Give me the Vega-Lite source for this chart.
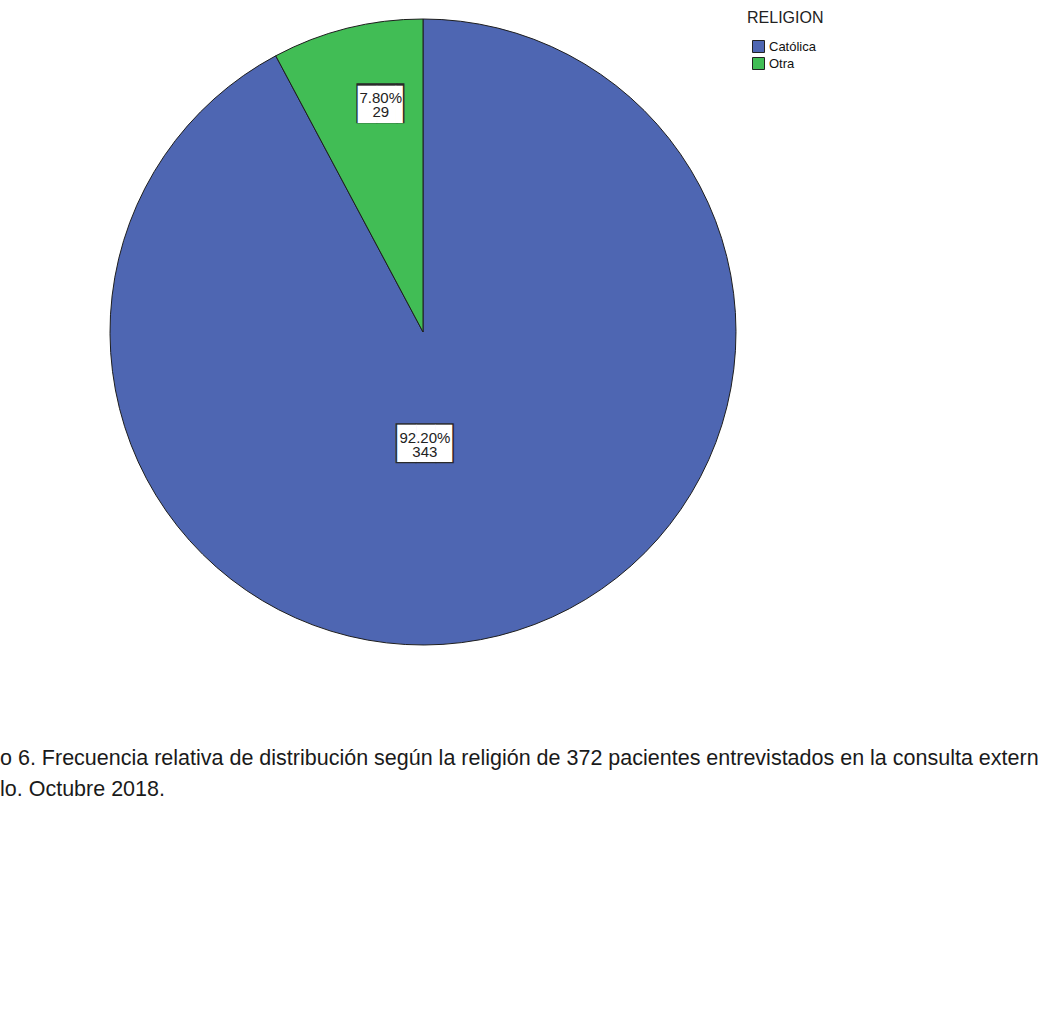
{
  "$schema": "https://vega.github.io/schema/vega-lite/v6.json",
  "width": 846,
  "height": 664,
  "autosize": {"type": "none"},
  "padding": {"left": 0, "top": 0, "right": 194, "bottom": 359},
  "background": "white",
  "config": {"view": {"stroke": null}, "font": "Liberation Sans"},
  "title": {
    "text": ["o 6. Frecuencia relativa de distribución según la religión de 372 pacientes entrevistados en la consulta extern", "lo. Octubre 2018."],
    "orient": "bottom",
    "anchor": "start",
    "frame": "group",
    "baseline": "alphabetic",
    "offset": 101,
    "fontSize": 21.5,
    "fontWeight": "normal",
    "font": "Liberation Sans",
    "color": "#1a1a1a",
    "lineHeight": 31
  },
  "data": {
    "values": [
      {"religion": "Católica", "count": 343, "label": "92.20%\n343"},
      {"religion": "Otra", "count": 29, "label": "7.80%\n29"}
    ]
  },
  "encoding": {
    "theta": {"field": "count", "type": "quantitative", "stack": true}
  },
  "layer": [
    {
      "mark": {"type": "arc", "outerRadius": 313, "stroke": "#1e1e1e", "strokeWidth": 1},
      "encoding": {
        "color": {
          "field": "religion",
          "type": "nominal",
          "scale": {"domain": ["Católica", "Otra"], "range": ["#4e66b2", "#41bd55"]},
          "legend": {
            "title": "RELIGION",
            "orient": "none",
            "legendX": 747,
            "legendY": 10,
            "padding": 0,
            "titleFont": "Liberation Sans",
            "titleFontSize": 16,
            "titleFontWeight": "normal",
            "titleColor": "#222222",
            "titlePadding": 14,
            "labelFont": "Liberation Sans",
            "labelFontSize": 13,
            "labelColor": "#111111",
            "labelOffset": 4,
            "symbolType": "square",
            "symbolSize": 144,
            "symbolOffset": 5,
            "symbolStrokeColor": "#222222",
            "symbolStrokeWidth": 1,
            "symbolOpacity": 1,
            "rowPadding": 0
          }
        }
      }
    },
    {
      "mark": {
        "type": "text",
        "text": {"expr": "datum.religion === 'Otra' ? '██▍' : '██▉'"},
        "font": "DejaVu Sans Mono",
        "fontSize": 33.5,
        "color": "#2a2a2a",
        "align": "center",
        "baseline": "middle",
        "radius": {"expr": "datum.religion === 'Otra' ? 232 : 115"},
        "dx": {"expr": "datum.religion === 'Otra' ? 20 : -25"},
        "dy": {"expr": "datum.religion === 'Otra' ? -1.5 : 1.5"}
      },
      "encoding": {"detail": {"field": "religion"}}
    },
    {
      "mark": {
        "type": "text",
        "text": {"expr": "datum.religion === 'Otra' ? '██▍' : '██▉'"},
        "font": "DejaVu Sans Mono",
        "fontSize": 31.35,
        "color": "#ffffff",
        "align": "center",
        "baseline": "middle",
        "radius": {"expr": "datum.religion === 'Otra' ? 232 : 115"},
        "dx": {"expr": "datum.religion === 'Otra' ? 19.57 : -25"},
        "dy": {"expr": "datum.religion === 'Otra' ? -1.2 : 1.8"}
      },
      "encoding": {"detail": {"field": "religion"}}
    },
    {
      "mark": {
        "type": "text",
        "text": {"expr": "datum.label"},
        "fontSize": 15,
        "lineHeight": 13.5,
        "lineBreak": "\n",
        "font": "Liberation Sans",
        "color": "#222222",
        "align": "center",
        "baseline": "middle",
        "radius": {"expr": "datum.religion === 'Otra' ? 232 : 115"},
        "dx": {"expr": "datum.religion === 'Otra' ? 14 : -26"},
        "dy": {"expr": "datum.religion === 'Otra' ? -8.5 : -5.5"}
      },
      "encoding": {"detail": {"field": "religion"}}
    }
  ]
}
